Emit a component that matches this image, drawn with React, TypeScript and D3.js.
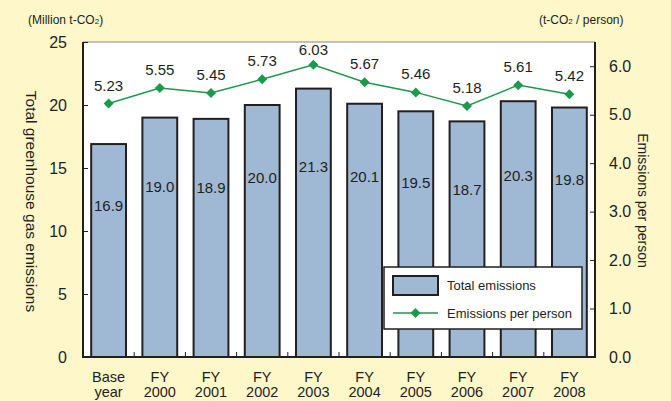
import { useEffect, useRef } from "react";
import * as d3 from "d3";

const categories = ["Base|year", "FY|2000", "FY|2001", "FY|2002", "FY|2003", "FY|2004", "FY|2005", "FY|2006", "FY|2007", "FY|2008"];
const totalEmissions = [16.9, 19.0, 18.9, 20.0, 21.3, 20.1, 19.5, 18.7, 20.3, 19.8];
const perPerson = [5.23, 5.55, 5.45, 5.73, 6.03, 5.67, 5.46, 5.18, 5.61, 5.42];
const leftTicks = [0, 5, 10, 15, 20, 25];
const rightTicks = [0, 1, 2, 3, 4, 5, 6];

const W = 671;
const H = 401;
const margin = { top: 42, right: 76, bottom: 44, left: 83 };
const FONT = "'Liberation Sans', Arial, sans-serif";
const INK = "#231f20";
const GREEN = "#1b9a4b";

const App = () => {
  const svgRef = useRef<SVGSVGElement>(null);

  useEffect(() => {
    const svg = d3.select(svgRef.current);
    svg.selectAll("*").remove();

    const iw = W - margin.left - margin.right;
    const ih = H - margin.top - margin.bottom;

    svg.append("rect").attr("width", W).attr("height", H).attr("fill", "#fdf7c9");

    const g = svg.append("g").attr("transform", `translate(${margin.left},${margin.top})`);

    const x = d3.scaleBand().domain(categories).range([0, iw]).paddingInner(0.32).paddingOuter(0.16);
    const yL = d3.scaleLinear().domain([0, 25]).range([ih, 0]);
    const yR = d3.scaleLinear().domain([0, 6.5]).range([ih, 0]);

    g.append("rect").attr("width", iw).attr("height", ih).attr("fill", "#fff");

    // bars
    g.selectAll("rect.bar")
      .data(totalEmissions)
      .enter()
      .append("rect")
      .attr("class", "bar")
      .attr("x", (d, i) => x(categories[i])!)
      .attr("y", (d) => yL(d))
      .attr("width", x.bandwidth())
      .attr("height", (d) => ih - yL(d))
      .attr("fill", "#9fb8d3")
      .attr("stroke", INK)
      .attr("stroke-width", 2);

    g.selectAll("text.barlabel")
      .data(totalEmissions)
      .enter()
      .append("text")
      .attr("class", "barlabel")
      .attr("x", (d, i) => x(categories[i])! + x.bandwidth() / 2)
      .attr("y", (d) => yL(d * 0.71))
      .attr("dy", "0.35em")
      .attr("text-anchor", "middle")
      .attr("font-family", FONT)
      .attr("font-size", 15)
      .attr("fill", INK)
      .text((d) => d.toFixed(1));

    // bottom ticks between categories (inside)
    const step = x.step();
    const outer = x(categories[0])! - (step - x.bandwidth()) / 2;
    for (let i = 1; i < categories.length; i++) {
      const bx = outer + i * step;
      g.append("line").attr("x1", bx).attr("x2", bx).attr("y1", ih).attr("y2", ih - 5).attr("stroke", INK).attr("stroke-width", 1);
    }

    // line
    const cx = (i: number) => x(categories[i])! + x.bandwidth() / 2;
    const line = d3.line<number>().x((d, i) => cx(i)).y((d) => yR(d));
    g.append("path").datum(perPerson).attr("d", line).attr("fill", "none").attr("stroke", GREEN).attr("stroke-width", 1.5);

    const diamond = d3.symbol().type(d3.symbolSquare).size(50);
    g.selectAll("path.pt")
      .data(perPerson)
      .enter()
      .append("path")
      .attr("class", "pt")
      .attr("d", diamond)
      .attr("transform", (d, i) => `translate(${cx(i)},${yR(d)}) rotate(45)`)
      .attr("fill", GREEN);

    g.selectAll("text.ptlabel")
      .data(perPerson)
      .enter()
      .append("text")
      .attr("class", "ptlabel")
      .attr("x", (d, i) => cx(i))
      .attr("y", (d) => Math.max(yR(d) - 13, 13))
      .attr("text-anchor", "middle")
      .attr("font-family", FONT)
      .attr("font-size", 15)
      .attr("fill", INK)
      .text((d) => d.toFixed(2));

    // frame: thin grey top, black sides and bottom
    g.append("line").attr("x1", 0).attr("x2", iw).attr("y1", 0).attr("y2", 0).attr("stroke", "#8a8a8a").attr("stroke-width", 1);
    g.append("path")
      .attr("d", `M0,0V${ih}H${iw}V0`)
      .attr("fill", "none")
      .attr("stroke", INK)
      .attr("stroke-width", 2);

    // left axis
    const left = g.append("g").call(d3.axisLeft(yL).tickValues(leftTicks).tickSize(-5).tickPadding(16));
    left.select(".domain").remove();
    left.selectAll("line").attr("stroke", INK);
    left.selectAll("text").attr("font-family", FONT).attr("font-size", 16).attr("fill", INK);

    const right = g.append("g").attr("transform", `translate(${iw},0)`).call(
      d3.axisRight(yR).tickValues(rightTicks).tickSize(-5).tickPadding(14).tickFormat(d3.format(".1f"))
    );
    right.select(".domain").remove();
    right.selectAll("line").attr("stroke", INK);
    right.selectAll("text").attr("font-family", FONT).attr("font-size", 16).attr("fill", INK);

    // x labels (two lines each)
    categories.forEach((c, i) => {
      const [a, b] = c.split("|");
      const t = g.append("text").attr("text-anchor", "middle").attr("font-family", FONT).attr("font-size", 14.5).attr("fill", INK);
      t.append("tspan").attr("x", cx(i)).attr("y", ih + 24.5).text(a);
      t.append("tspan").attr("x", cx(i)).attr("y", ih + 40).text(b);
    });

    // axis titles
    svg.append("text")
      .attr("transform", `translate(26,${margin.top + ih / 2 + 2}) rotate(90)`)
      .attr("text-anchor", "middle")
      .attr("font-family", FONT)
      .attr("font-size", 15.5)
      .attr("fill", INK)
      .text("Total greenhouse gas emissions");
    svg.append("text")
      .attr("transform", `translate(638,${margin.top + ih / 2 + 1}) rotate(90)`)
      .attr("text-anchor", "middle")
      .attr("font-family", FONT)
      .attr("font-size", 14)
      .attr("fill", INK)
      .text("Emissions per person");

    const unitL = svg.append("text").attr("x", 28).attr("y", 24).attr("font-family", FONT).attr("font-size", 12).attr("fill", INK);
    unitL.append("tspan").text("(Million t-CO");
    unitL.append("tspan").attr("font-size", 8).text("2");
    unitL.append("tspan").text(")");

    const unitR = svg.append("text").attr("x", 539).attr("y", 24).attr("font-family", FONT).attr("font-size", 12).attr("fill", INK);
    unitR.append("tspan").text("(t-CO");
    unitR.append("tspan").attr("font-size", 8).text("2");
    unitR.append("tspan").text(" / person)");

    // legend
    const lg = svg.append("g").attr("transform", "translate(384,267)");
    lg.append("rect").attr("width", 198).attr("height", 62).attr("fill", "#fff").attr("stroke", INK).attr("stroke-width", 1.5);
    lg.append("rect").attr("x", 9).attr("y", 9).attr("width", 45).attr("height", 19).attr("fill", "#9fb8d3").attr("stroke", INK).attr("stroke-width", 2);
    lg.append("text").attr("x", 63).attr("y", 23).attr("font-family", FONT).attr("font-size", 13).attr("fill", INK).text("Total emissions");
    lg.append("line").attr("x1", 9).attr("x2", 54).attr("y1", 46).attr("y2", 46).attr("stroke", GREEN).attr("stroke-width", 1.5);
    lg.append("path").attr("d", diamond).attr("transform", "translate(31.5,46) rotate(45)").attr("fill", GREEN);
    lg.append("text").attr("x", 63).attr("y", 51).attr("font-family", FONT).attr("font-size", 13).attr("fill", INK).text("Emissions per person");
  }, []);

  return <svg ref={svgRef} width={W} height={H} style={{ position: "absolute", left: 0, top: 0 }} />;
};

export default App;
